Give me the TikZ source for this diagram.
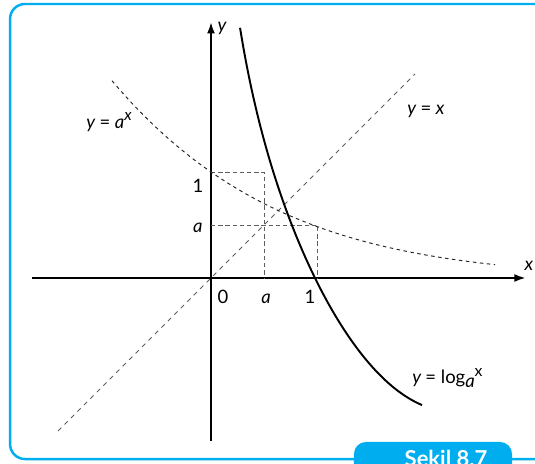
\documentclass[tikz,border=0pt]{standalone}
\usepackage{fontspec}
\setmainfont{Lato}
\usetikzlibrary{arrows.meta}
\definecolor{framecyan}{RGB}{0,174,239}
\definecolor{guidegray}{RGB}{95,95,95}

\begin{document}
\begin{tikzpicture}[
  x=2.12cm, y=2.12cm,
  font=\fontsize{10.5}{12}\selectfont,
  axis/.style={line width=1.1pt, -{Latex[length=6.5pt,width=4.5pt]}},
  guide/.style={guidegray, line width=0.5pt, dash pattern=on 2.5pt off 1.6pt},
  diag/.style={guidegray, line width=0.5pt, dash pattern=on 2.6pt off 2.6pt},
  expcurve/.style={black!85, line width=0.55pt, dash pattern=on 2pt off 2pt},
  logcurve/.style={line width=1.1pt},
  lbl/.style={inner sep=0pt, anchor=base},
  tab/.style={fill=framecyan, rounded corners=0.24cm}
]
\useasboundingbox (-1.9906,-1.7547) rectangle (3.0566,2.6226);

% frame and caption tab
\draw[framecyan, line width=1.4pt, rounded corners=0.3cm] (-1.896,-1.708) rectangle (3.4,2.585);
\fill[tab] (1.349,-2) -- (1.349,-1.547) -- (2.840,-1.547) -- (2.840,-2) -- cycle;
\node[lbl, text=white, font=\fontsize{12.5}{14}\selectfont\bfseries] (cap) at (2.217,-1.775) {Şekil 8.7};

% axes
\draw[axis] (-1.689,0) -- (2.97,0);
\draw[axis] (0,-1.538) -- (0,2.415);

% y = x and guide lines
\draw[diag] (-1.443,-1.443) -- (1.925,1.925);
\draw[guide] (0,1) -- (0.5,1) -- (0.5,0);
\draw[guide] (0,0.5) -- (1,0.5) -- (1,0);

% curves
\draw[expcurve, domain=-0.934:2.68, samples=60, smooth] plot (\x, {exp(-0.693*\x-0.03*\x*\x)});
\draw[logcurve, domain=0.274:1.991, samples=80, smooth] plot (\x, {-(2-0.3*(\x-0.981)*(\x-0.981))*ln(\x/0.981)});

% labels
\node[lbl] (ylab) at (0.104,2.33) {\itshape y};
\node[lbl] (xlab) at (3.0,0.066) {\itshape x};
\node[lbl] (idlab) at (2.028,1.547) {\itshape y \upshape= \itshape x};
\node[lbl] (explab) at (-0.962,1.415) {\itshape y \upshape= \itshape a\raisebox{4pt}{\small\itshape x}};
\node[lbl, anchor=base west] (loglab) at (1.896,-0.991) {\itshape y \upshape= log\raisebox{-2.5pt}{\itshape a}\raisebox{4pt}{\small x}};
\node[lbl] (yone) at (-0.123,0.811) {1};
\node[lbl] (ya) at (-0.123,0.425) {\itshape a};
\node[lbl] (xzero) at (0.113,-0.236) {0};
\node[lbl] (xa) at (0.519,-0.236) {\itshape a};
\node[lbl] (xone) at (0.934,-0.236) {1};
\end{tikzpicture}
\end{document}
